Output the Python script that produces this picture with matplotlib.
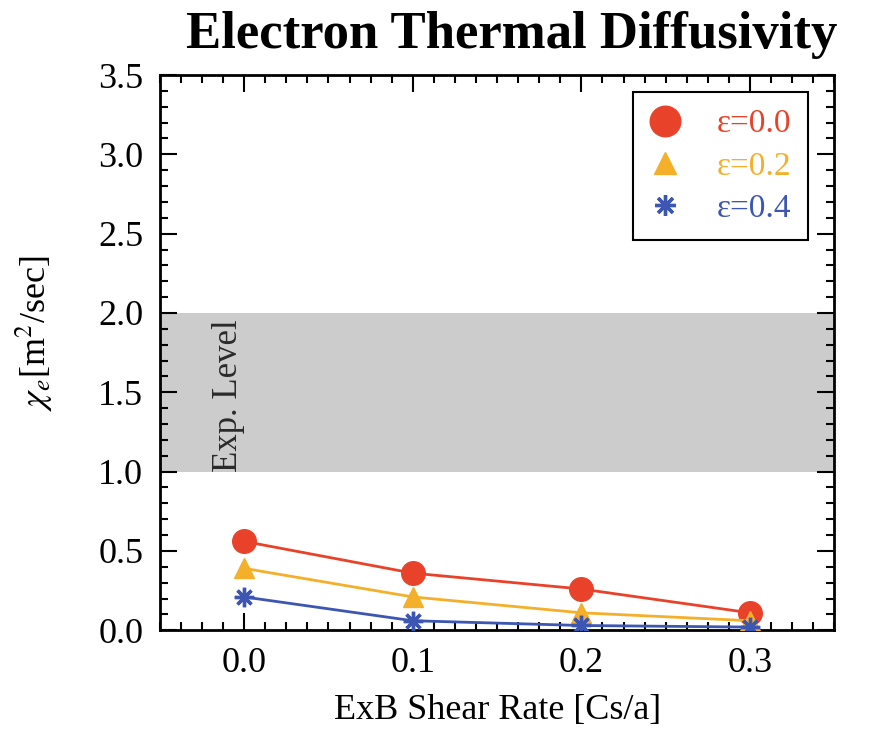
import matplotlib
matplotlib.use('Agg')
import matplotlib.pyplot as plt
from matplotlib.lines import Line2D
from matplotlib.ticker import MultipleLocator
import numpy as np

plt.rcParams['font.family'] = 'Liberation Serif'
plt.rcParams['mathtext.fontset'] = 'stix'

# data
shear = [0.0, 0.1, 0.2, 0.3]
chi_eps00 = [0.56, 0.36, 0.26, 0.11]
chi_eps02 = [0.39, 0.21, 0.11, 0.06]
chi_eps04 = [0.21, 0.06, 0.03, 0.02]
labels = ['ε=0.0', 'ε=0.2', 'ε=0.4']
exp_level = [1.0, 2.0]

red = '#e8432a'
orange = '#f4b02a'
blue = '#3c56b2'

fig = plt.figure(figsize=(8.69, 7.32), dpi=100)
ax = fig.add_axes([0.184, 0.139, 0.776, 0.7585])

ax.axhspan(exp_level[0], exp_level[1], color='#cccccc', lw=0, zorder=0)
ax.text(-0.0095, 1.0, 'Exp. Level', rotation=90, ha='center', va='bottom',
        fontsize=25, color='#2a2a2a')

ax.plot(shear, chi_eps00, color=red, lw=2, marker='o', ms=17, zorder=3)
ax.plot(shear, chi_eps02, color=orange, lw=2, marker='^', ms=14, zorder=3)
ax.plot(shear, chi_eps04, color=blue, lw=2, marker=(8, 2, 0), ms=14, mew=2.4, zorder=3)

ax.set_xlim(-0.05, 0.35)
ax.set_ylim(0, 3.5)
ax.xaxis.set_major_locator(MultipleLocator(0.1))
ax.xaxis.set_minor_locator(MultipleLocator(0.0125))
ax.yaxis.set_major_locator(MultipleLocator(0.5))
ax.yaxis.set_minor_locator(MultipleLocator(0.1))
ax.xaxis.set_major_formatter(plt.FormatStrFormatter('%.1f'))
ax.yaxis.set_major_formatter(plt.FormatStrFormatter('%.1f'))
ax.tick_params(which='both', direction='in', top=True, right=True, width=1.5, labelsize=26)
ax.tick_params(which='major', length=12, pad=12)
ax.tick_params(which='minor', length=6)
for s in ax.spines.values():
    s.set_linewidth(2)

fig.text(0.589, 0.935, 'Electron Thermal Diffusivity', fontsize=38,
         fontweight='bold', ha='center', va='baseline')
ax.set_xlabel('ExB Shear Rate [Cs/a]', fontsize=26, labelpad=10)
ax.set_ylabel(r'$\chi_e$[m$^2$/sec]', fontsize=26)
ax.yaxis.set_label_coords(-0.155, 0.535)

handles = [Line2D([], [], ls='none', marker='o', ms=22, color=red),
           Line2D([], [], ls='none', marker='^', ms=16, color=orange),
           Line2D([], [], ls='none', marker=(8, 2, 0), ms=15, mew=2.4, color=blue)]
leg = ax.legend(handles, labels, loc='upper right', bbox_to_anchor=(0.961, 0.969),
                borderaxespad=0, fontsize=24, labelcolor=[red, orange, blue],
                fancybox=False, framealpha=1, edgecolor='black', handlelength=0.9,
                handletextpad=1.1, borderpad=0.5, labelspacing=0.35)
leg.get_frame().set_linewidth(1.5)

fig.savefig('out.png', dpi=100)
